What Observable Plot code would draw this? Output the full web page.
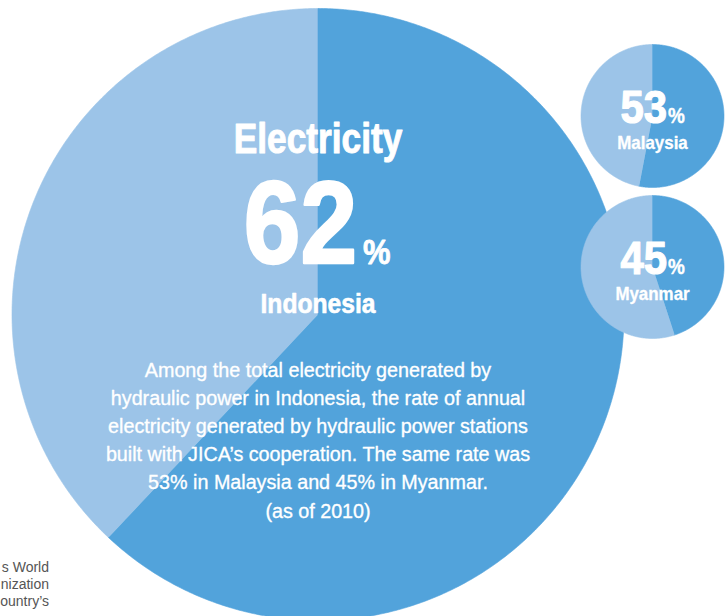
<!DOCTYPE html>
<html>
<head>
<meta charset="utf-8">
<script src="https://cdn.jsdelivr.net/npm/d3@7"></script>
<script src="https://cdn.jsdelivr.net/npm/@observablehq/plot@0.6"></script>
<style>
  html, body { margin: 0; padding: 0; background: #ffffff; }
  #chart { width: 725px; height: 616px; overflow: hidden; }
</style>
</head>
<body>
<div id="chart"></div>
<script>
// ---- data ----
const countries = ["Indonesia", "Malaysia", "Myanmar"];
const shares = [62, 53, 45]; // % of hydro electricity from JICA-supported stations (2010)
const title = "Electricity";
const noteLines = [
  "Among the total electricity generated by",
  "hydraulic power in Indonesia, the rate of annual",
  "electricity generated by hydraulic power stations",
  "built with JICA\u2019s cooperation. The same rate was",
  "53% in Malaysia and 45% in Myanmar.",
  "(as of 2010)"
];
const sourceLines = ["s World", "nization", "ountry\u2019s"];

// ---- layout / style (not data) ----
const W = 725, H = 616;
const DARK = "#52a3db", LIGHT = "#9cc4e8";
const FONT = "'Liberation Sans', Arial, Helvetica, sans-serif";
const layout = [
  {cx: 317.5, cy: 314, r: 306},
  {cx: 652, cy: 115.5, r: 71.5},
  {cx: 652, cy: 266.5, r: 71.5}
];

// build slice polygons from the shares via d3.pie
const pie = d3.pie().sort(null).value(d => d);
const rows = [];
shares.forEach((s, i) => {
  const {cx, cy, r} = layout[i];
  pie([s, 100 - s]).forEach((a, j) => {
    const part = j === 0 ? "jica" : "other";
    const key = countries[i] + "-" + part;
    rows.push({pie: i, key, part, x: cx, y: cy});
    const n = Math.max(2, Math.ceil((a.endAngle - a.startAngle) / (Math.PI / 360)));
    for (let k = 0; k <= n; k++) {
      const t = a.startAngle + (a.endAngle - a.startAngle) * k / n;
      rows.push({pie: i, key, part, x: cx + r * Math.sin(t), y: cy - r * Math.cos(t)});
    }
  });
});

const sliceMarks = [0, 1, 2].flatMap(i => [
  Plot.line(rows.filter(d => d.pie === i && d.part === "other"), {x: "x", y: "y", z: "key", fill: LIGHT, stroke: LIGHT, strokeWidth: 0.6, curve: "linear"}),
  Plot.line(rows.filter(d => d.pie === i && d.part === "jica"), {x: "x", y: "y", z: "key", fill: DARK, stroke: DARK, strokeWidth: 0.6, curve: "linear"})
]);

// text items: content from the data arrays, placement relative to pie centres
const big = layout[0];
const items = [
  {x: big.cx, y: big.cy - 161.5, t: title, size: 42, sx: 0.84, sw: 1, weight: "bold", anchor: "middle"},
  {x: big.cx + 39, y: big.cy - 52, t: String(shares[0]), size: 117, sx: 0.87, sw: 2.6, weight: "bold", anchor: "end"},
  {x: big.cx + 45, y: big.cy - 51, t: "%", size: 36, sx: 0.86, sw: 0.8, weight: "bold", anchor: "start"},
  {x: big.cx, y: big.cy - 1.5, t: countries[0], size: 28, sx: 0.88, sw: 0.6, weight: "bold", anchor: "middle"},
  ...[1, 2].flatMap(i => {
    const {cx, cy} = layout[i];
    return [
      {x: cx + 14.5, y: cy + 7, t: String(shares[i]), size: 46, sx: 0.91, sw: 1.2, weight: "bold", anchor: "end"},
      {x: cx + 15.5, y: cy + 7, t: "%", size: 22, sx: 0.86, sw: 0.4, weight: "bold", anchor: "start"},
      {x: cx, y: cy + 33, t: countries[i], size: 18, sx: 0.94, sw: 0.3, weight: "bold", anchor: "middle"}
    ];
  }),
  ...noteLines.map((t, i) => ({x: big.cx, y: 376 + i * 28.2, t, size: 21, sx: 0.94, sw: 0.35, weight: "normal", anchor: "middle"}))
];

const textMarks = items.map(d =>
  Plot.text([d], {
    x: "x", y: "y", text: "t", fill: "white", stroke: "white", strokeWidth: d.sw,
    fontSize: d.size, fontWeight: d.weight, fontFamily: FONT,
    textAnchor: d.anchor, lineAnchor: "bottom",
    ariaDescription: "sx:" + d.sx
  })
);

const srcRows = sourceLines.map((t, i) => ({x: 48.5, y: 571 + i * 17, t}));

const chart = Plot.plot({
  width: W, height: H, margin: 0,
  x: {domain: [0, W], range: [0, W], axis: null},
  y: {domain: [0, H], range: [0, H], axis: null},
  style: {background: "white"},
  marks: [
    ...sliceMarks,
    ...textMarks,
    Plot.text(srcRows, {x: "x", y: "y", text: "t", fill: "#555555", fontSize: 14, fontFamily: FONT, textAnchor: "end", lineAnchor: "bottom"})
  ]
});

// condense the glyphs horizontally around each text's anchor point
chart.querySelectorAll("g[aria-description^='sx:']").forEach(g => {
  const s = +g.getAttribute("aria-description").slice(3);
  g.setAttribute("paint-order", "stroke");
  g.querySelectorAll("text").forEach(el => {
    const tr = el.getAttribute("transform");
    if (tr) {
      el.setAttribute("transform", tr + ` scale(${s},1)`);
    } else {
      const x = +(el.getAttribute("x") || 0), y = +(el.getAttribute("y") || 0);
      el.removeAttribute("x"); el.removeAttribute("y");
      el.setAttribute("transform", `translate(${x},${y}) scale(${s},1)`);
    }
  });
});
document.getElementById("chart").appendChild(chart);
</script>
</body>
</html>
